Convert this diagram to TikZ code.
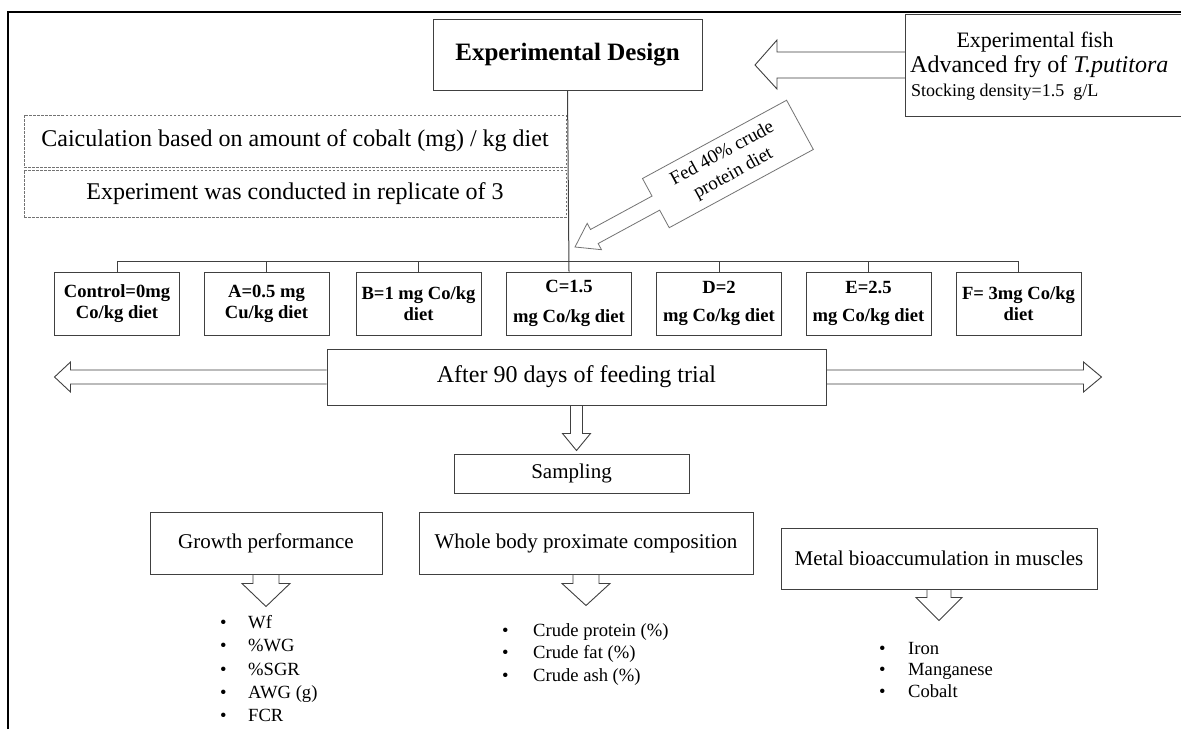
\documentclass[tikz,border=0pt]{standalone}
\usepackage{fontspec}
\setmainfont{Liberation Serif}
\usetikzlibrary{calc}
\definecolor{edge}{gray}{0.25}
\definecolor{dashgray}{gray}{0.45}
\newcommand\pxfont[2]{\fontsize{#1}{#2}\selectfont}
\newcommand\bul[2]{\makebox[#1][l]{•}#2}
% hollow arrow pointing down from an anchor: shaft half width, shaft length, head half width, total length
\newcommand\hollowdown[5]{%
  \draw[harrow] (#1) +(-#2,0) -- +(-#2,#3) -- +(-#4,#3) -- +(0,#5) -- +(#4,#3) -- +(#2,#3) -- +(#2,0);}

\begin{document}
\begin{tikzpicture}[x=1pt,y=-1pt,
  box/.style={draw=edge, line width=1pt, fill=white, inner sep=0pt, align=center},
  dashbox/.style={draw=dashgray, line width=0.7pt, dash pattern=on 2.5pt off 1.5pt, inner sep=0pt},
  dose/.style={box, minimum width=125pt, minimum height=63pt, font=\bfseries\pxfont{18.6}{21}},
  sub/.style={box, font=\pxfont{21}{24}},
  harrow/.style={draw=edge, line width=0.9pt, line join=miter},
  conn/.style={draw=edge, line width=1pt},
  item/.style={anchor=base west, inner sep=0pt, font=\pxfont{18.6}{22}},
  plain/.style={inner sep=0pt},
]
\useasboundingbox (0,0) rectangle (1181,729);
\clip (0,0) rectangle (1181,729);
\fill[white] (0,0) rectangle (1181,729);

% outer frame (left and top)
\draw[line width=2pt] (8,729) -- (8,12) -- (1181,12);

% heading box
\node[box, minimum width=269pt, minimum height=71pt, font=\bfseries\pxfont{25}{28}] (ed) at (567.5,54.5) {Experimental Design};

% fish box, running past the right edge
\node[box, minimum width=290pt, minimum height=102pt, anchor=north west] (fish) at (905,14) {};
\node[plain, font=\pxfont{22}{24}] (fishA) at (1035,42) {Experimental fish};
\node[plain, font=\pxfont{24}{26}, anchor=west] (fishB) at (910,67) {Advanced fry of \textit{T.putitora}};
\node[plain, font=\pxfont{18}{20}, anchor=west] (fishC) at (911,92) {Stocking density=1.5~~g/L};

% hollow arrow from the fish box to the heading box
\coordinate (fa) at (905,65);
\draw[harrow] (fa) +(0,-13) -- +(-128,-13) -- +(-128,-25) -- +(-150,0) -- +(-128,24) -- +(-128,13) -- +(0,13);

% dashed notes
\node[dashbox, minimum width=542pt, minimum height=52pt, font=\pxfont{24}{26}] (calc) at (295,141) {Caiculation based on amount of cobalt (mg) / kg diet};
\node[dashbox, minimum width=542pt, minimum height=47pt, font=\pxfont{24}{26}] (repl) at (295,193.5) {Experiment was conducted in replicate of 3};

% treatment boxes
\node[dose] (d1) at (117,303.5) {Control=0mg\\Co/kg diet};
\node[dose] (d2) at (266.5,303.5) {A=0.5 mg\\Cu/kg diet};
\node[dose] (d3) at (418.5,303.5) {B=1 mg Co/kg\\diet};
\node[dose] (d4) at (569,303.5) {C=1.5\\[9pt]mg Co/kg diet};
\node[dose] (d5) at (719,303.5) {D=2\\[7pt]mg Co/kg diet};
\node[dose] (d6) at (868.5,303.5) {E=2.5\\[7pt]mg Co/kg diet};
\node[dose] (d7) at (1018.5,303.5) {F= 3mg Co/kg\\diet};

% tree connectors
\coordinate (bus) at (0,261);
\draw[conn] (ed.south) -- (d4.north);
\draw[conn] (d1.north) -- (d1.north |- bus) -- (d7.north |- bus) -- (d7.north);
\foreach \k in {2,3,5,6} \draw[conn] (d\k.north) -- (d\k.north |- bus);

% diet arrow with its label
\begin{scope}[shift={(575,247)}, rotate=28.5]
  \coordinate (fedtip) at (0,0);
  \draw[draw=dashgray, line width=0.8pt, fill=white, line join=miter] (fedtip) -- (22,15) -- (22,8) -- (92,8) -- (92,28) -- (256,28) -- (256,-28) -- (92,-28) -- (92,-8) -- (22,-8) -- (22,-15) -- cycle;
  \node[plain, rotate=28.5, font=\pxfont{19}{23}, align=center] (fed) at (174,0) {Fed 40\% crude\\protein diet};
\end{scope}

% feeding trial box with its double arrow
\node[box, minimum width=499pt, minimum height=56pt, font=\pxfont{24}{26}] (after) at (576.5,377) {After 90 days of feeding trial};
\draw[harrow] (after.west) +(0,-7) -- +(-256,-7) -- +(-256,-15) -- +(-272,0) -- +(-256,15) -- +(-256,7) -- +(0,7);
\draw[harrow] (after.east) +(0,-7) -- +(257,-7) -- +(257,-15) -- +(275,0) -- +(257,15) -- +(257,7) -- +(0,7);

% sampling
\node[box, minimum width=235pt, minimum height=39pt, font=\pxfont{21}{24}] (samp) at (571.5,473.5) {Sampling};
\hollowdown{after.south}{6}{28}{14}{45}

% analyses
\node[sub, minimum width=232pt, minimum height=62pt] (growth) at (266,543) {Growth performance};
\node[sub, minimum width=334pt, minimum height=62pt] (whole) at (586,543) {Whole body proximate composition};
\node[sub, minimum width=316pt, minimum height=61pt] (metal) at (939,558.5) {Metal bioaccumulation in muscles};
\hollowdown{growth.south}{13}{9}{24}{32}
\hollowdown{whole.south}{13}{9}{24}{31}
\hollowdown{metal.south}{12}{8}{23}{31}

% measured variables
\node[item] (g1) at (220,628) {\bul{28pt}{Wf}};
\node[item] (g2) at (220,651) {\bul{28pt}{\%WG}};
\node[item] (g3) at (220,675) {\bul{28pt}{\%SGR}};
\node[item] (g4) at (220,698) {\bul{28pt}{AWG (g)}};
\node[item] (g5) at (220,721) {\bul{28pt}{FCR}};

\node[item] (w1) at (502,636) {\bul{31pt}{Crude protein (\%)}};
\node[item] (w2) at (502,658) {\bul{31pt}{Crude fat (\%)}};
\node[item] (w3) at (502,681) {\bul{31pt}{Crude ash (\%)}};

\node[item] (m1) at (879,654) {\bul{29pt}{Iron}};
\node[item] (m2) at (879,675) {\bul{29pt}{Manganese}};
\node[item] (m3) at (879,697) {\bul{29pt}{Cobalt}};
\end{tikzpicture}
\end{document}
